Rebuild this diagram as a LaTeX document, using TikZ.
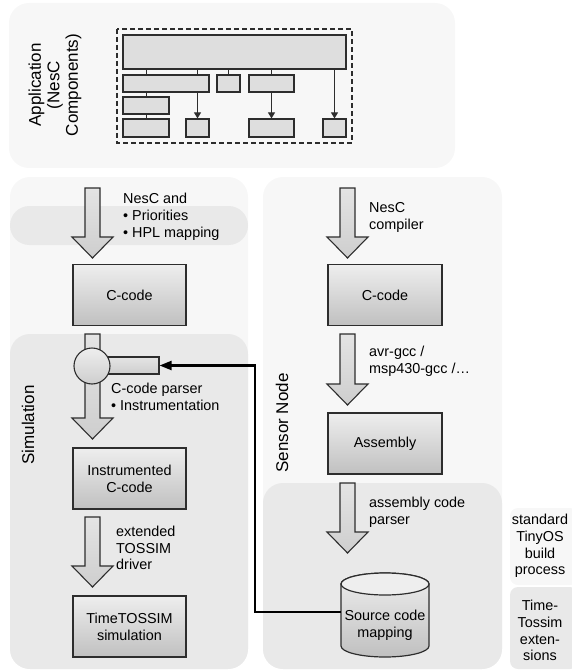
\documentclass[tikz,border=0pt]{standalone}
\usepackage{fontspec}
\setmainfont{Liberation Sans}
\usetikzlibrary{arrows.meta,calc}

\definecolor{panel}{RGB}{247,247,247}
\definecolor{subpanel}{RGB}{233,233,233}
\definecolor{boxtop}{RGB}{238,238,238}
\definecolor{boxbot}{RGB}{192,192,192}
\definecolor{arrtop}{RGB}{228,228,228}
\definecolor{arrbot}{RGB}{206,206,206}
\definecolor{appfill}{RGB}{222,222,222}
\definecolor{edge}{RGB}{45,45,45}

% block arrow: x, top y, tip y
\newcommand{\bigarrow}[3]{%
  \draw[bigarrow] (#1-7.5,#2) -- (#1-7.5,#3+21) -- (#1-20.5,#3+21) -- (#1,#3)
    -- (#1+20.5,#3+21) -- (#1+7.5,#3+21) -- (#1+7.5,#2) -- cycle;}

\begin{document}
\begin{tikzpicture}[x=1pt, y=1pt, font=\fontsize{14.4}{16.8}\selectfont]
			\tikzstyle{comp} = [rectangle, draw=edge, line width=1.2pt, fill=appfill, inner sep=0pt]
			\tikzstyle{step box} = [rectangle, draw=edge, line width=1.2pt, top color=boxtop, bottom color=boxbot, minimum width=113, minimum height=61, align=center]
			\tikzstyle{bigarrow} = [draw=edge, line width=1.1pt, top color=arrtop, bottom color=arrbot]
			\tikzstyle{label} = [anchor=west, align=left, inner sep=0pt]
			\tikzstyle{side} = [rotate=90, align=center, font=\fontsize{17}{18.5}\selectfont]
			\tikzstyle{legend} = [align=center, inner sep=0pt]
			\tikzstyle{link} = [draw=edge, line width=1pt]
			\tikzstyle{tip} = [-{Triangle[length=6pt,width=7pt]}]

			\useasboundingbox (0,0) rectangle (571,-671);

			% panels
			\fill[panel, rounded corners=20] (9,-3) rectangle (455,-168);
			\fill[panel, rounded corners=20] (10,-177) rectangle (248,-669);
			\fill[subpanel, rounded corners=19.5] (10,-206) rectangle (248,-245);
			\fill[subpanel, rounded corners=20] (10,-334) rectangle (248,-669);
			\fill[panel, rounded corners=20] (263,-177) rectangle (502,-669);
			\fill[subpanel, rounded corners=20] (263,-483) rectangle (502,-669);
			\fill[panel, rounded corners=8] (510,-508) rectangle (578,-585);
			\fill[subpanel, rounded corners=8] (510,-587) rectangle (578,-669);

			% application
			\node [side] (applbl) at (55,-85) {Application\\(NesC\\Components)};
			\draw[edge, line width=1.2pt, dash pattern=on 5pt off 3pt] (117,-29) rectangle (352,-143);

			\node [comp, minimum width=223, minimum height=34] (top) at (234.5,-52) {};
			\node [comp, minimum width=86, minimum height=17] (ca) at (166,-83.5) {};
			\node [comp, minimum width=23, minimum height=17] (cb) at (228.5,-83.5) {};
			\node [comp, minimum width=45, minimum height=17] (cc) at (271.5,-83.5) {};
			\node [comp, minimum width=46, minimum height=17] (cd) at (146,-105.5) {};
			\node [comp, minimum width=46, minimum height=18] (ce) at (146,-128) {};
			\node [comp, minimum width=23, minimum height=18] (cf) at (197.5,-128) {};
			\node [comp, minimum width=45, minimum height=18] (cg) at (271.5,-128) {};
			\node [comp, minimum width=23, minimum height=18] (ch) at (334.5,-128) {};

			\draw[link] (top.south -| ce) -- (ca.north -| ce);
			\draw[link] (ca.south -| ce) -- (cd.north);
			\draw[link] (cd.south) -- (ce.north);
			\draw[link] (top.south -| cf) -- (ca.north -| cf);
			\draw[link] (top.south -| cb) -- (cb.north);
			\draw[link] (top.south -| cc) -- (cc.north);
			\draw[link, tip] (ca.south -| cf) -- (cf.north);
			\draw[link, tip] (cc.south) -- (cg.north);
			\draw[link, tip] (top.south -| ch) -- (ch.north);

			% simulation column
			\bigarrow{92.5}{-188}{-258}
			\node [label] (nesc) at (123,-216.5) {NesC and\\• Priorities\\• HPL mapping};
			\node [step box] (ccl) at (129.5,-295) {C-code};

			\bigarrow{92.5}{-334}{-439}
			\node [rectangle, draw=edge, line width=1.1pt, top color=arrtop, bottom color=arrbot, minimum width=67, minimum height=17, inner sep=0pt] (pbar) at (125.5,-365.5) {};
			\node [circle, draw=edge, line width=1.1pt, top color=boxtop, bottom color=arrbot, minimum size=36, inner sep=0pt] (parser) at (92,-366) {};
			\node [label] (parselbl) at (111,-396.5) {C-code parser\\• Instrumentation};
			\node [step box] (icl) at (129.5,-478.5) {Instrumented\\C-code};

			\bigarrow{92.5}{-517}{-587}
			\node [label] (drv) at (116,-548) {extended\\TOSSIM\\driver};
			\node [step box] (tts) at (129.5,-626.5) {TimeTOSSIM\\simulation};

			\node [side] (simlbl) at (28,-425) {Simulation};

			% sensor node column
			\bigarrow{347.5}{-188}{-258}
			\node [label] (ncc) at (369,-217.5) {NesC\\compiler};
			\node [step box, minimum width=114] (ccr) at (385,-295) {C-code};

			\bigarrow{347.5}{-334}{-405}
			\node [label] (gcc) at (369,-361.5) {avr-gcc /\\msp430-gcc /…};
			\node [step box, minimum width=114] (asm) at (385,-443.5) {Assembly};

			\bigarrow{347.5}{-483}{-553}
			\node [label] (asmp) at (369,-512) {assembly code\\parser};

			\draw[draw=edge, line width=1.2pt, top color=boxtop, bottom color=boxbot] (341,-584) -- (341,-646) arc (180:360:44 and 11) -- (429,-584) arc (0:180:44 and 11) -- cycle;
			\draw[draw=edge, line width=1.2pt, fill=boxtop] (385,-584) ellipse (44 and 11);
			\node [align=center, minimum width=88, inner sep=0pt] (map) at (385,-625) {Source code\\mapping};

			\node [side] (snlbl) at (282,-423) {Sensor Node};

			% feedback
			\draw[line width=2.2pt, -{Triangle[length=12pt,width=9pt]}] ($(map.west)+(0,13)$) -- ++(-86,0) |- (pbar.east);

			% legend
			\node [legend] (std) at (540,-546) {standard\\TinyOS\\build\\process};
			\node [legend] (ext) at (540,-630.5) {Time-\\Tossim\\exten-\\sions};
\end{tikzpicture}
\end{document}
